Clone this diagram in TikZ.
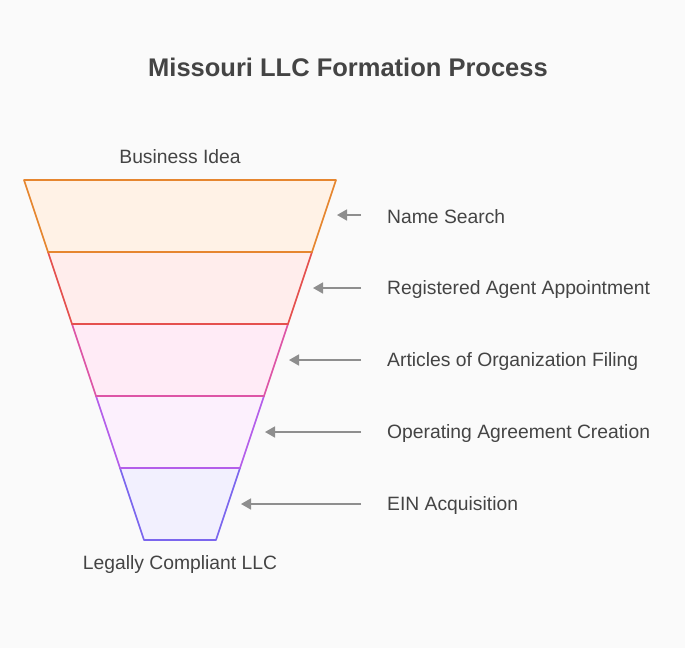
\documentclass[tikz,border=0pt]{standalone}
\usepackage{fontspec}
\setmainfont{Liberation Sans}
\usetikzlibrary{arrows.meta}
\definecolor{bg}{HTML}{FAFAFA}
\definecolor{txt}{HTML}{444444}
\definecolor{ag}{HTML}{8E8E8E}
\definecolor{c1}{HTML}{E6862F}\definecolor{f1}{HTML}{FFF2E6}
\definecolor{c2}{HTML}{E5504E}\definecolor{f2}{HTML}{FFEDEC}
\definecolor{c3}{HTML}{DD55A6}\definecolor{f3}{HTML}{FFEBF6}
\definecolor{c4}{HTML}{B45EEA}\definecolor{f4}{HTML}{FCF0FD}
\definecolor{c5}{HTML}{7B66EE}\definecolor{f5}{HTML}{F2F0FE}
\tikzset{lay/.style={line width=1.6pt,line join=round},
 arr/.style={draw=ag,color=ag,line width=1.6pt,-{Triangle[length=10pt,width=11pt]}},
 lbl/.style={anchor=west,text=txt,font=\fontsize{19.3}{22}\selectfont,inner sep=0pt}}
\begin{document}
\begin{tikzpicture}[x=1pt,y=-1pt]
\fill[bg] (0,0) rectangle (685,648);
\useasboundingbox (0,0) rectangle (685,648);
\node[text=txt,font=\fontsize{25.5}{28}\selectfont\bfseries] (title) at (348,67) {Missouri LLC Formation Process};
\draw[lay,draw=c5,fill=f5] (120,468)--(240,468)--(216,540)--(144,540)--cycle;
\draw[lay,draw=c4,fill=f4] (96,396)--(264,396)--(240,468)--(120,468)--cycle;
\draw[lay,draw=c3,fill=f3] (72,324)--(288,324)--(264,396)--(96,396)--cycle;
\draw[lay,draw=c2,fill=f2] (48,252)--(312,252)--(288,324)--(72,324)--cycle;
\draw[lay,draw=c1,fill=f1] (24,180)--(336,180)--(312,252)--(48,252)--cycle;
\node[text=txt,font=\fontsize{19.3}{22}\selectfont] (top) at (180,157) {Business Idea};
\node[text=txt,font=\fontsize{19.3}{22}\selectfont] (bot) at (180,565) {Legally Compliant LLC};
\foreach \y/\tip/\t [count=\i] in {215/337/Name Search,288/313/Registered Agent Appointment,360/289/Articles of Organization Filing,432/265/Operating Agreement Creation,504/241/EIN Acquisition}{
 \node[lbl] (l\i) at (387,\y+1.5) {\t};
 \coordinate (s\i) at (361,\y);
 \coordinate (e\i) at (\tip,\y);
 \draw[arr] (s\i)--(e\i);
}
\end{tikzpicture}
\end{document}
